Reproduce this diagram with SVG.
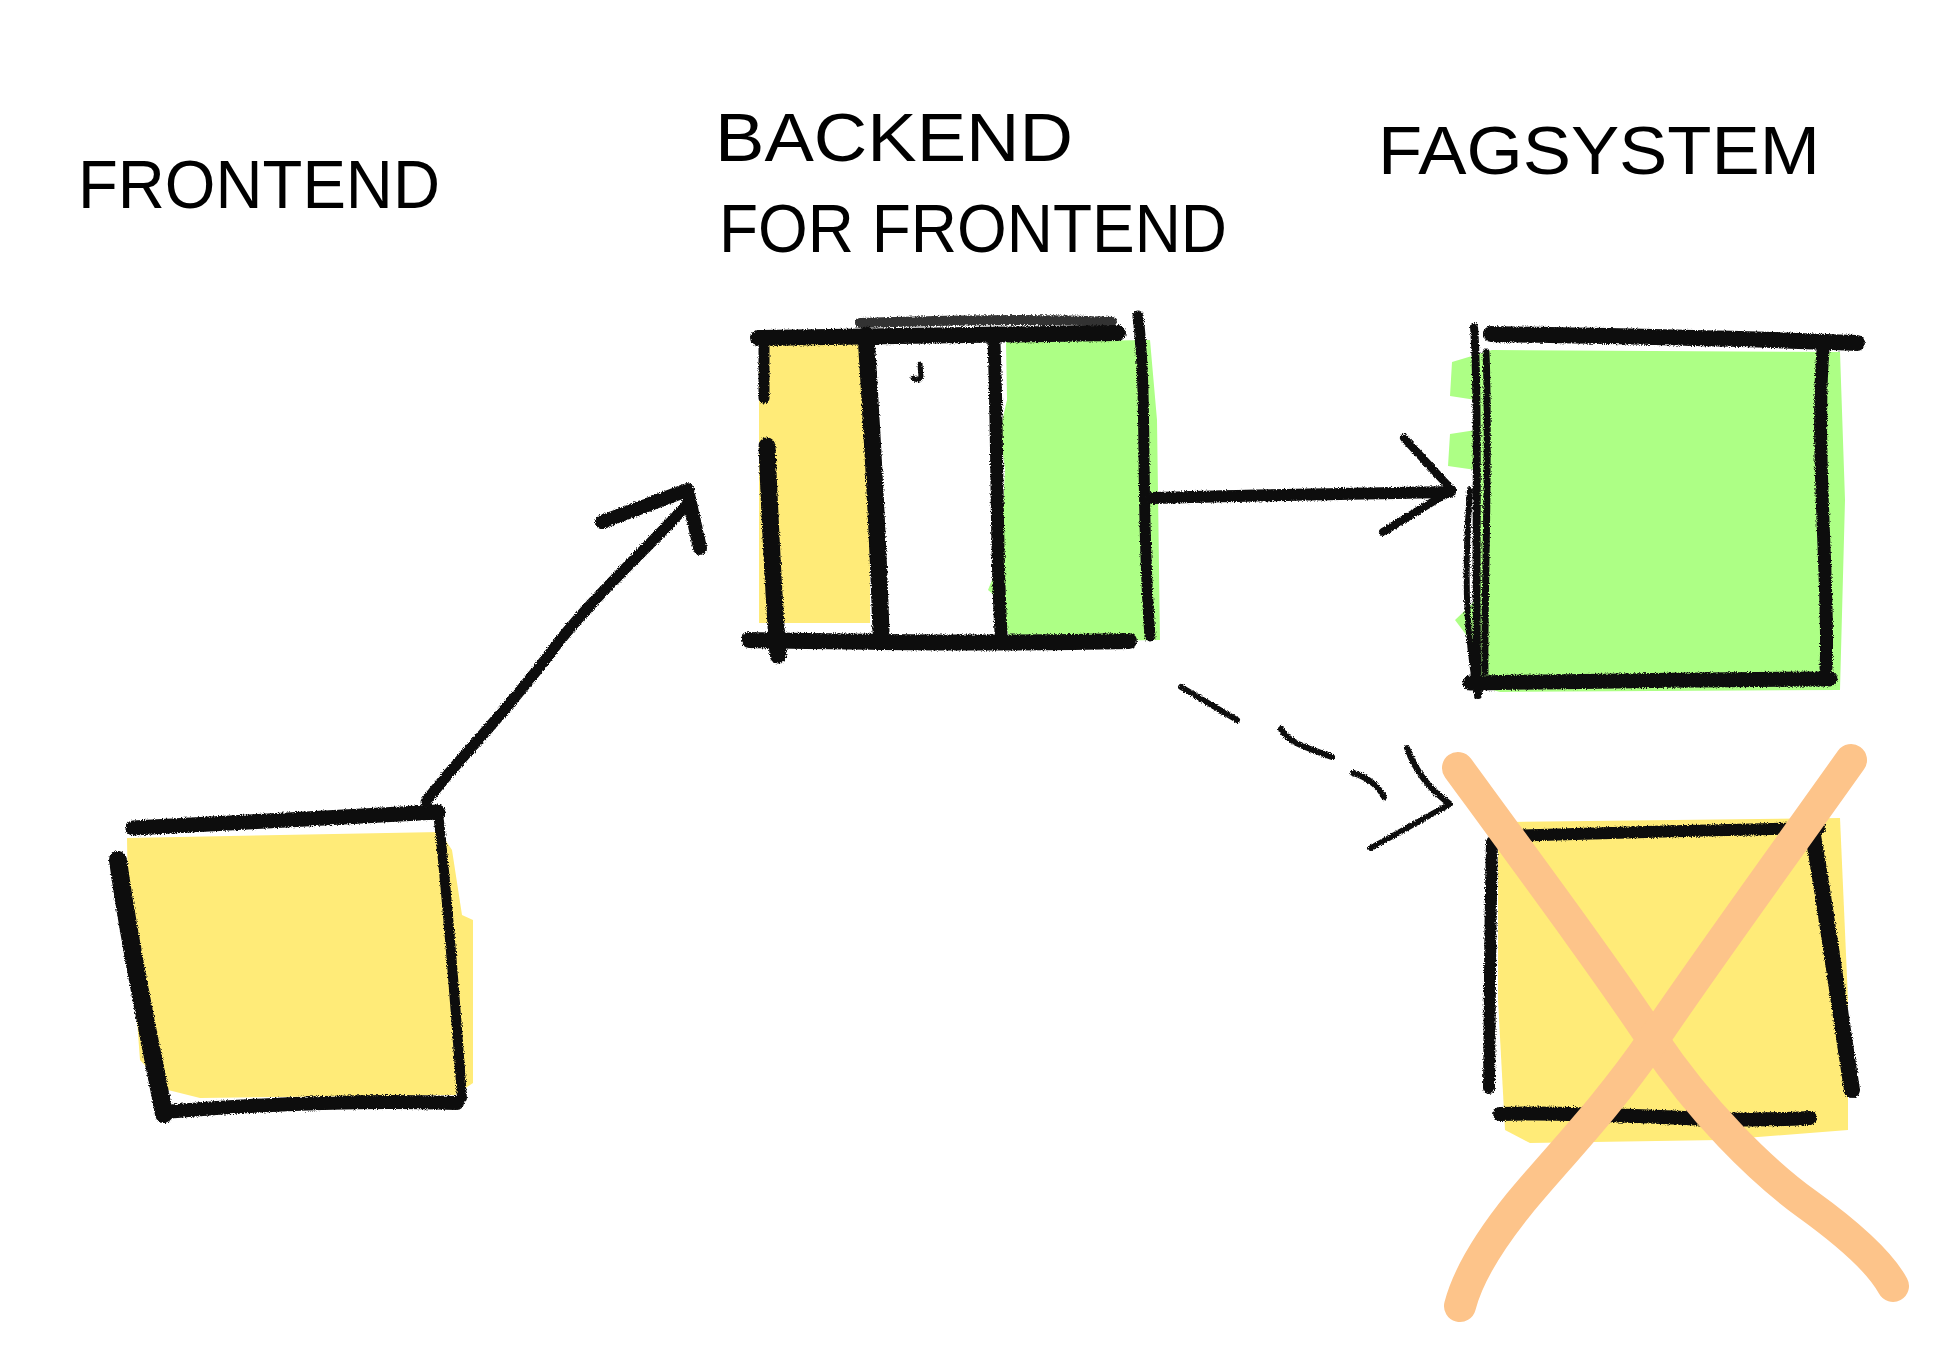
<svg xmlns="http://www.w3.org/2000/svg" width="1950" height="1356" viewBox="0 0 1950 1356">
<style>
.lbl{font-family:"Liberation Sans","DejaVu Sans",sans-serif;font-size:68px;fill:#000;}
.ink{fill:none;stroke:#111;stroke-linecap:round;stroke-linejoin:round;}
.yel{fill:#ffeb78;}
.grn{fill:#adff85;}
.cross{fill:none;stroke:#fdc48a;stroke-width:32;stroke-linecap:round;stroke-linejoin:round;}
</style>
<defs>
<filter id="rough" x="-5%" y="-5%" width="110%" height="110%">
<feTurbulence type="fractalNoise" baseFrequency="0.9" numOctaves="2" seed="3" result="n"/>
<feDisplacementMap in="SourceGraphic" in2="n" scale="4" xChannelSelector="R" yChannelSelector="G"/>
</filter>
</defs>
<rect width="1950" height="1356" fill="#fff"/>

<g id="labels">
<text class="lbl" x="78" y="208" textLength="362" lengthAdjust="spacingAndGlyphs">FRONTEND</text>
<text class="lbl" x="715" y="161" textLength="358" lengthAdjust="spacingAndGlyphs">BACKEND</text>
<text class="lbl" x="719" y="252" textLength="508" lengthAdjust="spacingAndGlyphs">FOR FRONTEND</text>
<text class="lbl" x="1378" y="174" textLength="442" lengthAdjust="spacingAndGlyphs">FAGSYSTEM</text>
</g>

<g id="frontend">
<path class="yel" d="M127,838 L440,832 L452,850 L462,915 L473,920 L473,1083 L455,1095 L200,1098 L168,1090 L140,1060 L128,900 Z"/>
<g filter="url(#rough)">
<path class="ink" stroke-width="15" d="M133,828 C230,822 340,818 438,812"/>
<path class="ink" stroke-width="10" d="M438,812 C448,900 455,1000 462,1098"/>
<path class="ink" stroke-width="14" d="M164,1112 C260,1104 360,1100 457,1103"/>
<path class="ink" stroke-width="18" d="M118,860 C130,950 150,1040 164,1114"/>
</g>
</g>

<g id="backend">
<rect class="yel" x="759" y="343" width="111" height="280"/>
<path class="grn" d="M1006,342 L1150,340 L1157,420 L1160,640 L1010,642 L1000,600 L988,590 L1000,560 L1005,470 L1000,430 L1007,400 Z"/>
<g filter="url(#rough)">
<path class="ink" stroke-width="16" d="M758,338 C880,336 1000,334 1118,333"/>
<path class="ink" stroke-width="10" d="M860,323 C950,320 1040,318 1112,322" opacity="0.85"/>
<path class="ink" stroke-width="11" d="M1138,316 C1148,400 1140,500 1150,636"/>
<path class="ink" stroke-width="11" d="M764,336 L764,398"/>
<path class="ink" stroke-width="17" d="M767,446 C770,520 774,600 778,655"/>
<path class="ink" stroke-width="17" d="M866,335 C872,430 878,540 881,632"/>
<path class="ink" stroke-width="13" d="M994,342 C998,450 996,550 1001,632"/>
<path class="ink" stroke-width="16" d="M749,640 C880,642 1000,644 1129,641"/>
<path class="ink" stroke-width="5" d="M920,364 L921,377 Q918,382 913,378"/>
</g>
</g>

<g id="fagsystem">
<path class="grn" d="M1492,350 L1840,352 L1845,500 L1840,690 L1500,692 L1475,685 L1470,640 L1455,620 L1476,600 L1476,470 L1448,466 L1450,434 L1476,430 L1476,400 L1450,396 L1452,362 Z"/>
<g filter="url(#rough)">
<path class="ink" stroke-width="16" d="M1491,334 C1600,336 1740,338 1857,343"/>
<path class="ink" stroke-width="13" d="M1823,350 C1815,450 1830,600 1826,668"/>
<path class="ink" stroke-width="15" d="M1470,683 C1600,681 1720,679 1830,679"/>
<path class="ink" stroke-width="8" d="M1474,327 C1480,400 1474,600 1478,695"/>
<path class="ink" stroke-width="7" d="M1486,352 C1490,450 1484,600 1485,672"/>
<path class="ink" stroke-width="6" d="M1470,490 C1462,600 1470,650 1476,690"/>
</g>
</g>

<g id="removed">
<path class="yel" d="M1510,822 L1840,818 L1848,1000 L1848,1130 L1720,1140 L1530,1143 L1505,1130 L1498,1000 L1498,840 Z"/>
<g filter="url(#rough)">
<path class="ink" stroke-width="12" d="M1501,836 C1600,833 1720,830 1820,828"/>
<path class="ink" stroke-width="16" d="M1812,830 C1825,900 1838,1000 1852,1090"/>
<path class="ink" stroke-width="12" d="M1492,842 C1490,920 1490,1000 1489,1088"/>
<path class="ink" stroke-width="14" d="M1500,1114 C1600,1110 1700,1124 1810,1118"/>
</g>
<path class="cross" d="M1458,768 C1540,880 1610,975 1653,1040 C1700,1110 1760,1170 1807,1204 C1850,1235 1880,1262 1893,1286"/>
<path class="cross" d="M1851,760 C1780,860 1700,970 1653,1040 C1605,1110 1555,1160 1519,1204 C1490,1240 1468,1275 1460,1306"/>
</g>

<g id="connectors" filter="url(#rough)">
<path class="ink" stroke-width="11" d="M426,802 C448,770 500,720 551,652 C590,600 640,556 684,508"/>
<path class="ink" stroke-width="14" d="M602,522 L687,490 L700,548"/>
<path class="ink" stroke-width="12" d="M1152,498 C1250,495 1350,494 1450,492"/>
<path class="ink" stroke-width="8" d="M1404,438 L1452,490 L1383,532"/>
<path class="ink" stroke-width="6" d="M1181,687 L1237,720 M1281,729 C1290,745 1310,748 1332,757 M1353,773 C1365,776 1378,785 1384,797"/>
<path class="ink" stroke-width="6" d="M1407,748 C1415,770 1430,790 1450,804 L1371,848"/>
</g>
</svg>
